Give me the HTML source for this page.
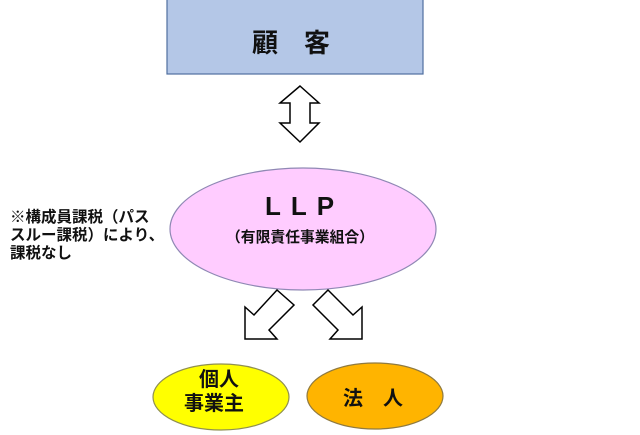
<!DOCTYPE html>
<html><head><meta charset="utf-8"><style>
body{margin:0;width:640px;height:435px;background:#fff;overflow:hidden;position:relative;font-family:"Liberation Sans","Noto Sans CJK JP",sans-serif}
.t{position:absolute;font-weight:bold;color:#111;white-space:nowrap}
</style></head><body>
<svg width="640" height="435" style="position:absolute;left:0;top:0">
<rect x="167" y="-2" width="256" height="76" fill="#b4c7e7" stroke="#4f6f9f" stroke-width="1.2"/>
<polygon points="300,86 319,103 310,103 310,123 319,123 300,142 280,123 290,123 290,103 280,103" fill="#fff" stroke="#000" stroke-width="1.5"/>
<ellipse cx="303" cy="229" rx="133" ry="61" fill="#ffccff" stroke="#8f88b4" stroke-width="1.2"/>
<polygon points="245,339 245,307 254,315 277,290 294,305 269,330 277,339" fill="#fff" stroke="#000" stroke-width="1.5"/>
<polygon points="362,339 362,307 353,315 328,290 313,305 338,330 330,339" fill="#fff" stroke="#000" stroke-width="1.5"/>
<ellipse cx="221" cy="397" rx="68" ry="33" fill="#ffff00" stroke="#8f8f50" stroke-width="1.2"/>
<ellipse cx="375" cy="396" rx="68" ry="33" fill="#ffb400" stroke="#8f7a40" stroke-width="1.2"/>
</svg>
<div class="t" style="left:252px;top:23px;font-size:26px">顧　客</div>
<div class="t" style="left:265px;top:191px;font-size:26px;letter-spacing:10px">LLP</div>
<div class="t" style="left:226px;top:226px;font-size:14.8px">（有限責任事業組合）</div>
<div class="t" style="left:10px;top:209px;font-size:15.5px;line-height:18px">※構成員課税（パス<br>スルー課税）により、<br>課税なし</div>
<div class="t" style="left:194px;top:368px;font-size:20px;line-height:24px;text-align:center">個人<br><span style="margin-left:-10px">事業主</span></div>
<div class="t" style="left:343px;top:382px;font-size:20px">法　人</div>
</body></html>
